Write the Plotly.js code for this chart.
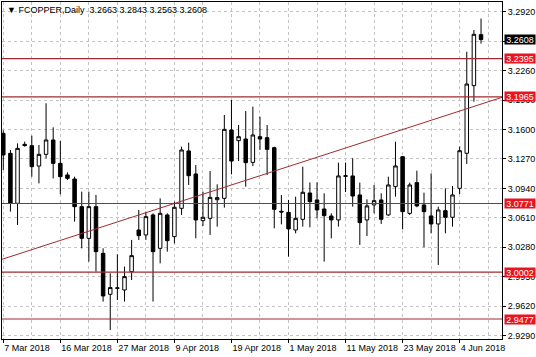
<!DOCTYPE html>
<html><head><meta charset="utf-8">
<script src="https://cdn.plot.ly/plotly-3.0.1.min.js"></script>
<style>html,body{margin:0;padding:0;background:#fff}#c{width:536px;height:357px}</style>
</head><body><div id="c"></div>
<script>
const openP=[3.1557,3.1333,3.0773,3.1434,3.1419,3.1191,3.1322,3.1483,3.1221,3.1091,
3.1046,3.0736,3.0381,3.0736,3.0213,2.9754,2.9821,2.9802,3.0008,3.0474,
3.0419,3.0643,3.0269,3.0643,3.0400,3.0717,3.1360,3.1102,3.0579,3.0605,
3.0814,3.0829,3.1595,3.1475,3.1494,3.1232,3.1520,3.1509,3.1397,3.0684,
3.0672,3.0474,3.0594,3.0889,3.0811,3.0710,3.0631,3.0587,3.1075,3.1080,
3.0867,3.0587,3.0755,3.0811,3.0643,3.0960,3.1296,3.0661,3.1005,3.0755,
3.0632,3.0542,3.0691,3.0617,3.0941,3.1334,3.2092,3.2663];
const highP=[3.1590,3.1371,3.1445,3.1464,3.1531,3.1427,3.1894,3.1625,3.1472,3.1120,
3.1072,3.0904,3.0904,3.0867,3.0269,2.9989,3.0202,3.0064,3.0363,3.0699,
3.0680,3.0661,3.0829,3.0661,3.0792,3.1408,3.1453,3.1203,3.0904,3.1135,
3.0986,3.1763,3.1931,3.1651,3.1808,3.1856,3.1744,3.1651,3.1408,3.0867,
3.0811,3.0848,3.1184,3.1008,3.1008,3.0885,3.0661,3.1229,3.1230,3.1278,
3.1005,3.0818,3.0979,3.0885,3.1072,3.1464,3.1304,3.1005,3.1139,3.0893,
3.1109,3.0736,3.0941,3.0967,3.1408,3.2472,3.2715,3.2843];
const lowP=[3.1147,3.0680,3.0531,3.1408,3.1072,3.0997,3.1277,3.1053,3.0874,3.1035,
3.0568,3.0269,3.0120,3.0008,2.9672,2.9354,2.9690,2.9672,2.9914,3.0363,
3.0363,2.9672,3.0101,3.0232,3.0325,3.0643,3.0979,3.0381,3.0519,3.0419,
3.0512,3.0725,3.1098,3.1247,3.0960,3.1191,3.1371,3.1091,3.0493,3.0538,
3.0176,3.0437,3.0512,3.0504,3.0605,3.0120,3.0381,3.0512,3.0900,3.0736,
3.0307,3.0407,3.0661,3.0542,3.0632,3.0848,3.0482,3.0643,3.0729,3.0281,
3.0437,3.0082,3.0437,3.0512,3.0878,3.1214,3.1912,3.2563];
const closeP=[3.1315,3.0773,3.1389,3.1420,3.1184,3.1322,3.1483,3.1221,3.1072,3.1053,
3.0736,3.0381,3.0736,3.0232,2.9735,2.9829,2.9825,2.9952,3.0187,3.0411,
3.0624,3.0232,3.0661,3.0355,3.0729,3.1371,3.1083,3.0587,3.0617,3.0840,
3.0837,3.1602,3.1247,3.1520,3.1229,3.1539,3.1494,3.1378,3.0706,3.0676,
3.0486,3.0605,3.0897,3.0792,3.0699,3.0635,3.0587,3.1080,3.1082,3.0855,
3.0557,3.0744,3.0803,3.0594,3.0979,3.1192,3.0680,3.0979,3.0744,3.0680,
3.0542,3.0699,3.0617,3.0867,3.1363,3.2110,3.2667,3.2608];
const tickBars=[0,8,16,24,32,40,48,56,64];
const tickLabels=["7 Mar 2018","16 Mar 2018","27 Mar 2018","9 Apr 2018","19 Apr 2018","1 May 2018","11 May 2018","23 May 2018","4 Jun 2018"];
const levels=[3.2395,3.1965,3.0771,3.0002,2.9477];
const lastPrice=3.2608;
const trendY=[3.0146,3.1961];
const titleText="▼ FCOPPER,Daily  3.2663 3.2843 3.2563 3.2608";

const bars=openP.map((_,i)=>i);
const FONT="Liberation Sans, Arial, sans-serif";
const GRID="#c4c4c4";
const LVL="#a02a30";

const trace={type:'candlestick',x:bars,open:openP,high:highP,low:lowP,close:closeP,
  increasing:{line:{color:'#000',width:1},fillcolor:'#fff'},
  decreasing:{line:{color:'#000',width:1},fillcolor:'#000'},
  whiskerwidth:0,hoverinfo:'skip',showlegend:false};

const shapes=levels.map(v=>({type:'line',xref:'paper',x0:0,x1:1,yref:'y',y0:v,y1:v,line:{color:LVL,width:1.2}}));
shapes.push({type:'line',xref:'paper',x0:0,x1:1,yref:'y',y0:trendY[0],y1:trendY[1],line:{color:LVL,width:1}});

const annotations=levels.map(v=>({xref:'paper',x:1,xanchor:'left',xshift:2,yref:'y',y:v,yanchor:'middle',
  text:v.toFixed(4),showarrow:false,bgcolor:'#e8141e',font:{family:FONT,size:9,color:'#fff'},width:30,height:9,borderpad:0}));
annotations.push({xref:'paper',x:1,xanchor:'left',xshift:2,yref:'y',y:lastPrice,yanchor:'middle',
  text:lastPrice.toFixed(4),showarrow:false,bgcolor:'#000',font:{family:FONT,size:9,color:'#fff'},width:30,height:9,borderpad:0});

const layout={width:536,height:357,margin:{l:2,r:34,t:2,b:18},paper_bgcolor:'#fff',plot_bgcolor:'#fff',
  font:{family:FONT,size:9,color:'#000'},
  title:{text:titleText,xref:'container',x:7/536,xanchor:'left',yref:'container',y:1-10/357,yanchor:'middle',font:{family:FONT,size:9,color:'#000'}},
  xaxis:{type:'linear',range:[-0.18,69.94],tickmode:'array',tickvals:tickBars,ticktext:tickLabels,tickangle:0,
    ticklabelposition:'outside right',ticks:'outside',ticklen:3,tickcolor:'#000',
    showgrid:true,gridcolor:GRID,griddash:'3px,3px',gridwidth:1,
    minor:{tickmode:'linear',tick0:0,dtick:4,showgrid:true,gridcolor:GRID,griddash:'3px,3px',ticks:''},
    showline:true,mirror:true,linecolor:'#000',linewidth:1,zeroline:false,
    rangeslider:{visible:false},fixedrange:true,tickfont:{family:FONT,size:9,color:'#000'}},
  yaxis:{side:'right',range:[2.9253,3.3029],tickmode:'linear',tick0:2.929,dtick:0.033,tickformat:'.4f',
    ticks:'outside',ticklen:3,tickcolor:'#000',
    showgrid:true,gridcolor:GRID,griddash:'3px,3px',gridwidth:1,
    showline:true,mirror:true,linecolor:'#000',linewidth:1,zeroline:false,fixedrange:true,
    tickfont:{family:FONT,size:9,color:'#000'}},
  shapes:shapes,annotations:annotations,showlegend:false};

Plotly.newPlot('c',[trace],layout,{displayModeBar:false,staticPlot:true});
</script></body></html>
